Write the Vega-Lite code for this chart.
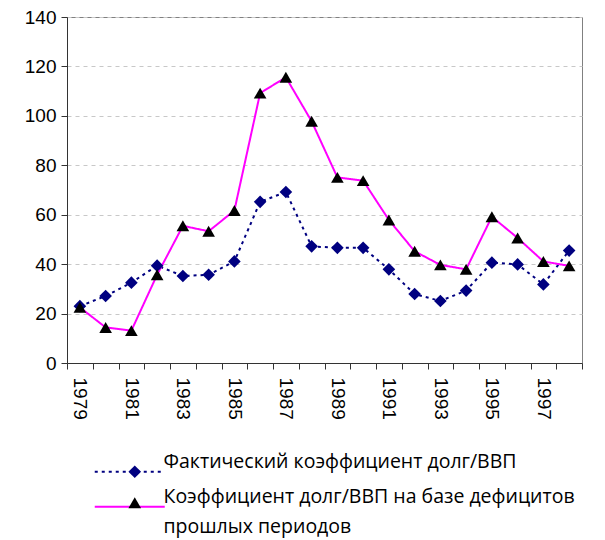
{
  "$schema": "https://vega.github.io/schema/vega-lite/v6.json",
  "width": 515,
  "height": 346,
  "autosize": {"type": "none"},
  "padding": {"left": 67, "top": 17, "right": 23, "bottom": 177},
  "background": "white",
  "config": {
    "view": {"stroke": "#808080", "strokeWidth": 1},
    "font": "Liberation Sans"
  },
  "data": {
    "values": [
      {"year": 1979, "series": "Фактический коэффициент долг/ВВП", "value": 23.0},
      {"year": 1980, "series": "Фактический коэффициент долг/ВВП", "value": 27.1},
      {"year": 1981, "series": "Фактический коэффициент долг/ВВП", "value": 32.5},
      {"year": 1982, "series": "Фактический коэффициент долг/ВВП", "value": 39.4},
      {"year": 1983, "series": "Фактический коэффициент долг/ВВП", "value": 35.2},
      {"year": 1984, "series": "Фактический коэффициент долг/ВВП", "value": 35.7},
      {"year": 1985, "series": "Фактический коэффициент долг/ВВП", "value": 41.1},
      {"year": 1986, "series": "Фактический коэффициент долг/ВВП", "value": 65.2},
      {"year": 1987, "series": "Фактический коэффициент долг/ВВП", "value": 69.2},
      {"year": 1988, "series": "Фактический коэффициент долг/ВВП", "value": 47.2},
      {"year": 1989, "series": "Фактический коэффициент долг/ВВП", "value": 46.6},
      {"year": 1990, "series": "Фактический коэффициент долг/ВВП", "value": 46.6},
      {"year": 1991, "series": "Фактический коэффициент долг/ВВП", "value": 37.9},
      {"year": 1992, "series": "Фактический коэффициент долг/ВВП", "value": 27.9},
      {"year": 1993, "series": "Фактический коэффициент долг/ВВП", "value": 25.1},
      {"year": 1994, "series": "Фактический коэффициент долг/ВВП", "value": 29.3},
      {"year": 1995, "series": "Фактический коэффициент долг/ВВП", "value": 40.6},
      {"year": 1996, "series": "Фактический коэффициент долг/ВВП", "value": 39.9},
      {"year": 1997, "series": "Фактический коэффициент долг/ВВП", "value": 31.8},
      {"year": 1998, "series": "Фактический коэффициент долг/ВВП", "value": 45.5},
      {"year": 1979, "series": "Коэффициент долг/ВВП на базе дефицитов прошлых периодов", "value": 22.5},
      {"year": 1980, "series": "Коэффициент долг/ВВП на базе дефицитов прошлых периодов", "value": 14.4},
      {"year": 1981, "series": "Коэффициент долг/ВВП на базе дефицитов прошлых периодов", "value": 13.1},
      {"year": 1982, "series": "Коэффициент долг/ВВП на базе дефицитов прошлых периодов", "value": 35.7},
      {"year": 1983, "series": "Коэффициент долг/ВВП на базе дефицитов прошлых периодов", "value": 55.5},
      {"year": 1984, "series": "Коэффициент долг/ВВП на базе дефицитов прошлых периодов", "value": 53.3},
      {"year": 1985, "series": "Коэффициент долг/ВВП на базе дефицитов прошлых периодов", "value": 61.7},
      {"year": 1986, "series": "Коэффициент долг/ВВП на базе дефицитов прошлых периодов", "value": 109.2},
      {"year": 1987, "series": "Коэффициент долг/ВВП на базе дефицитов прошлых периодов", "value": 115.6},
      {"year": 1988, "series": "Коэффициент долг/ВВП на базе дефицитов прошлых периодов", "value": 97.8},
      {"year": 1989, "series": "Коэффициент долг/ВВП на базе дефицитов прошлых периодов", "value": 75.1},
      {"year": 1990, "series": "Коэффициент долг/ВВП на базе дефицитов прошлых периодов", "value": 73.8},
      {"year": 1991, "series": "Коэффициент долг/ВВП на базе дефицитов прошлых периодов", "value": 57.9},
      {"year": 1992, "series": "Коэффициент долг/ВВП на базе дефицитов прошлых периодов", "value": 45.2},
      {"year": 1993, "series": "Коэффициент долг/ВВП на базе дефицитов прошлых периодов", "value": 39.7},
      {"year": 1994, "series": "Коэффициент долг/ВВП на базе дефицитов прошлых периодов", "value": 37.9},
      {"year": 1995, "series": "Коэффициент долг/ВВП на базе дефицитов прошлых периодов", "value": 59.2},
      {"year": 1996, "series": "Коэффициент долг/ВВП на базе дефицитов прошлых периодов", "value": 50.6},
      {"year": 1997, "series": "Коэффициент долг/ВВП на базе дефицитов прошлых периодов", "value": 41.1},
      {"year": 1998, "series": "Коэффициент долг/ВВП на базе дефицитов прошлых периодов", "value": 39.3}
    ]
  },
  "encoding": {
    "x": {
      "field": "year",
      "type": "ordinal",
      "scale": {"type": "band", "paddingInner": 0, "paddingOuter": 0},
      "axis": {
        "title": null,
        "labelAngle": 90,
        "labelAlign": "left",
        "labelBaseline": "middle",
        "labelFontSize": 19,
        "labelColor": "black",
        "labelPadding": 8,
        "labelOverlap": false,
        "labelExpr": "(+datum.value) % 2 == 1 ? datum.label : ''",
        "tickBand": "extent",
        "tickSize": 6,
        "tickColor": "#333333",
        "domainColor": "#333333",
        "grid": false
      }
    },
    "y": {
      "field": "value",
      "type": "quantitative",
      "scale": {"domain": [0, 140], "nice": false},
      "axis": {
        "title": null,
        "values": [0, 20, 40, 60, 80, 100, 120, 140],
        "labelFontSize": 19,
        "labelColor": "black",
        "labelPadding": 5,
        "tickSize": 6,
        "tickColor": "#333333",
        "domainColor": "#333333",
        "grid": true,
        "gridColor": "#c8c8c8",
        "gridDash": [4, 4],
        "gridWidth": 1
      }
    }
  },
  "layer": [
    {
      "mark": {"type": "line", "strokeWidth": 2},
      "encoding": {
        "color": {
          "field": "series",
          "type": "nominal",
          "scale": {
            "domain": ["Фактический коэффициент долг/ВВП", "Коэффициент долг/ВВП на базе дефицитов прошлых периодов"],
            "range": ["#000080", "#FF00FF"]
          },
          "legend": {
            "orient": "none",
            "legendX": 53,
            "legendY": 445,
            "padding": 0,
            "title": null,
            "symbolType": "M -7 0 H 7",
            "symbolSize": 100,
            "symbolStrokeWidth": 2,
            "symbolFillColor": "transparent",
            "labelFont": "Open Sans",
            "labelFontSize": 19.5,
            "labelColor": "black",
            "labelOffset": 24,
            "labelLimit": 0,
            "rowPadding": 10,
            "labelExpr": "datum.label == 'Коэффициент долг/ВВП на базе дефицитов прошлых периодов' ? ['Коэффициент долг/ВВП на базе дефицитов', 'прошлых периодов'] : datum.label",
            "encode": {"labels": {"update": {"lineHeight": {"value": 30}, "dy": {"value": -10}}}}
          }
        },
        "strokeDash": {
          "field": "series",
          "type": "nominal",
          "scale": {
            "domain": ["Фактический коэффициент долг/ВВП", "Коэффициент долг/ВВП на базе дефицитов прошлых периодов"],
            "range": [[3, 4], [1, 0]]
          },
          "legend": {
            "orient": "none",
            "legendX": 53,
            "legendY": 445,
            "padding": 0,
            "title": null,
            "symbolType": "M -7 0 H 7",
            "symbolSize": 100,
            "symbolStrokeWidth": 2,
            "symbolFillColor": "transparent",
            "labelFont": "Open Sans",
            "labelFontSize": 19.5,
            "labelColor": "black",
            "labelOffset": 24,
            "labelLimit": 0,
            "rowPadding": 10,
            "labelExpr": "datum.label == 'Коэффициент долг/ВВП на базе дефицитов прошлых периодов' ? ['Коэффициент долг/ВВП на базе дефицитов', 'прошлых периодов'] : datum.label",
            "encode": {"labels": {"update": {"lineHeight": {"value": 30}, "dy": {"value": -10}}}}
          }
        }
      }
    },
    {
      "mark": {"type": "point", "filled": true, "opacity": 1, "size": 160},
      "encoding": {
        "color": {
          "field": "series",
          "type": "nominal",
          "scale": {
            "domain": ["Фактический коэффициент долг/ВВП", "Коэффициент долг/ВВП на базе дефицитов прошлых периодов"],
            "range": ["#000080", "#000000"]
          },
          "legend": {
            "orient": "none",
            "legendX": 58,
            "legendY": 445,
            "padding": 0,
            "title": null,
            "symbolSize": 160,
            "symbolOpacity": 1,
            "labelFont": "Open Sans",
            "labelFontSize": 19.5,
            "labelOffset": 24,
            "labelLimit": 0,
            "rowPadding": 10,
            "labelExpr": "''"
          }
        },
        "shape": {
          "field": "series",
          "type": "nominal",
          "scale": {
            "domain": ["Фактический коэффициент долг/ВВП", "Коэффициент долг/ВВП на базе дефицитов прошлых периодов"],
            "range": ["diamond", "triangle-up"]
          },
          "legend": {
            "orient": "none",
            "legendX": 58,
            "legendY": 445,
            "padding": 0,
            "title": null,
            "symbolSize": 160,
            "symbolOpacity": 1,
            "labelFont": "Open Sans",
            "labelFontSize": 19.5,
            "labelOffset": 24,
            "labelLimit": 0,
            "rowPadding": 10,
            "labelExpr": "''"
          }
        }
      }
    }
  ],
  "resolve": {
    "scale": {"color": "independent", "shape": "independent", "strokeDash": "independent"}
  }
}
